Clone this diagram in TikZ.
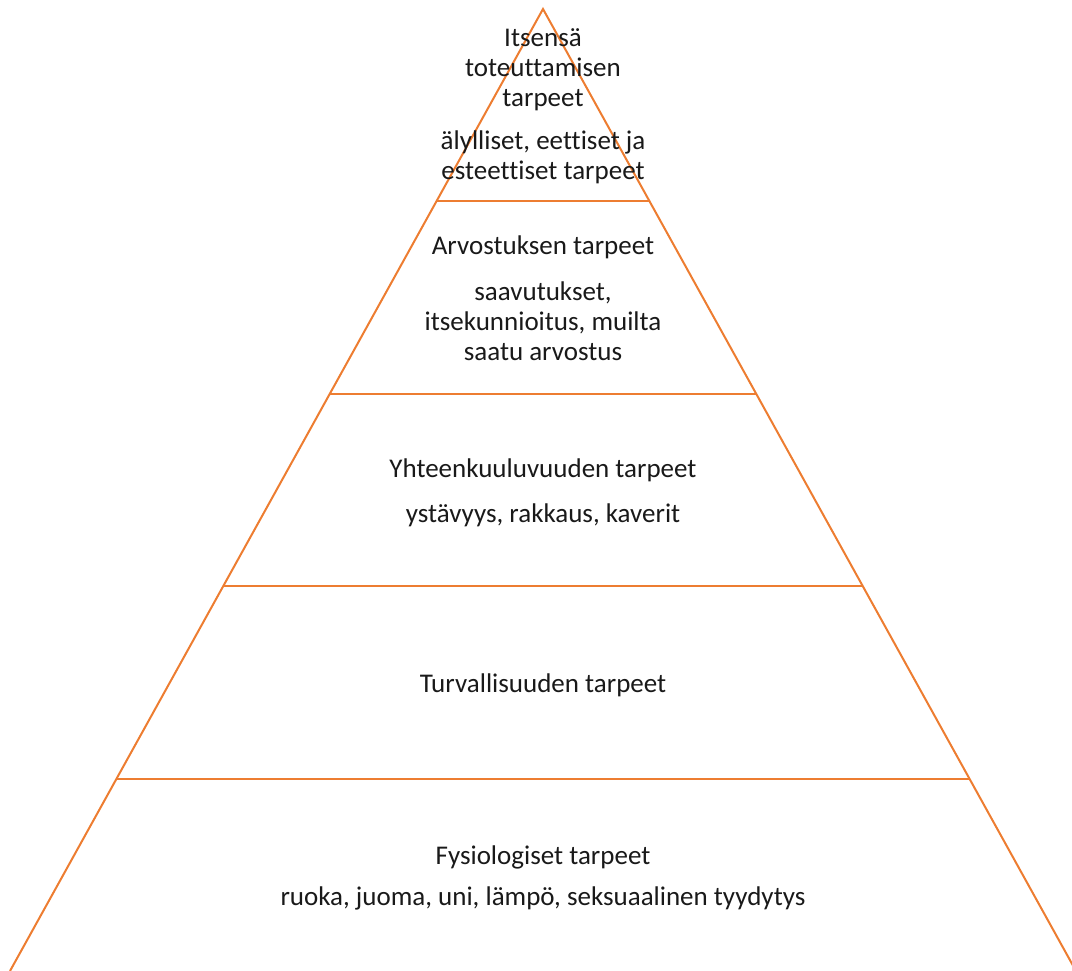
\documentclass[tikz,border=0pt]{standalone}
\usepackage{fontspec}
\setmainfont{Carlito}[Ligatures={NoCommon}]
\usetikzlibrary{calc}
\definecolor{pyrorange}{RGB}{237,125,49}
\tikzset{
	edge/.style={draw=pyrorange, line width=2pt},
	lbl/.style={align=center, inner sep=0pt, font=\fontsize{27}{30}\selectfont, text=black!90}
}

\begin{document}
\begin{tikzpicture}[x=1pt, y=-1pt]
		\useasboundingbox (0,0) rectangle (1072,971);
		\coordinate (apex) at (543,9);
		\coordinate (lbase) at (10,971);
		\coordinate (rbase) at (1076,971);
		%
		\draw [edge] (lbase) -- (apex) -- (rbase);
		\foreach \f in {0.2,0.4,0.6,0.8}
			\draw [edge] ($(apex)!\f!(lbase)$) -- ($(apex)!\f!(rbase)$);
		%
		\node[lbl] (self) at (543,70) {Itsensä\\toteuttamisen\\tarpeet};
		\node[lbl] (selfx) at (543,157) {älylliset, eettiset ja\\esteettiset tarpeet};
		\node[lbl] (est) at (543,247) {Arvostuksen tarpeet};
		\node[lbl] (estx) at (543,321) {saavutukset,\\itsekunnioitus, muilta\\saatu arvostus};
		\node[lbl] (love) at (543,470) {Yhteenkuuluvuuden tarpeet};
		\node[lbl] (lovex) at (543,515) {ystävyys, rakkaus, kaverit};
		\node[lbl] (safe) at (543,685) {Turvallisuuden tarpeet};
		\node[lbl] (phys) at (543,857) {Fysiologiset tarpeet};
		\node[lbl] (physx) at (543,898) {ruoka, juoma, uni, lämpö, seksuaalinen tyydytys};
	\end{tikzpicture}
\end{document}
